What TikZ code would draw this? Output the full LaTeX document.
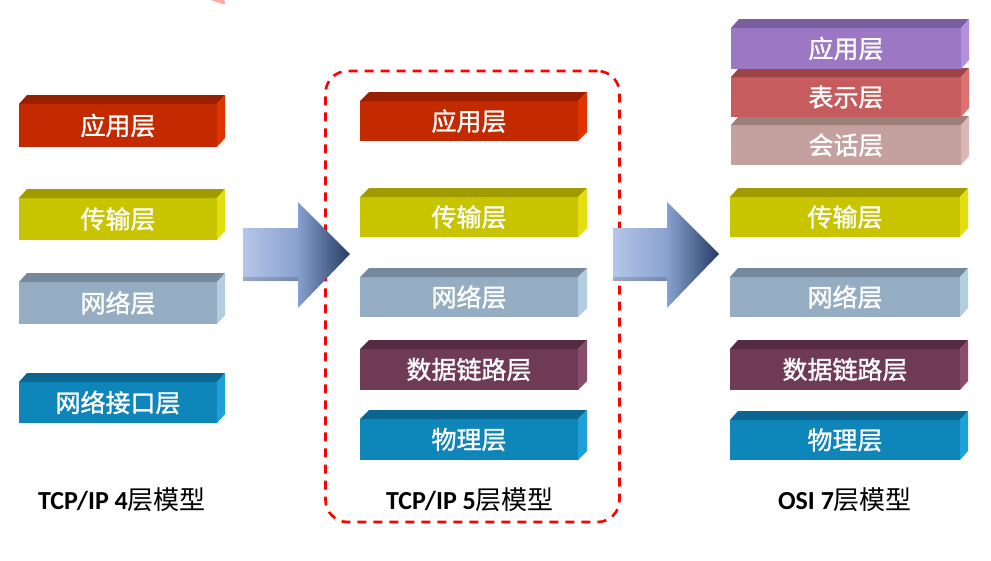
\documentclass[tikz,border=0pt]{standalone}
\usepackage{fontspec}
\setmainfont{Carlito}
\newfontfamily\cjk{Noto Sans CJK SC}
\newfontfamily\cjkfb[FakeBold=1.2]{Noto Sans CJK SC}
\usetikzlibrary{calc}
\definecolor{redF}{HTML}{C42A00}\definecolor{redT}{HTML}{982000}\definecolor{redS}{HTML}{E03300}
\definecolor{yelF}{HTML}{C8C400}\definecolor{yelT}{HTML}{A09C00}\definecolor{yelS}{HTML}{E2DE10}
\definecolor{gryF}{HTML}{94ADC2}\definecolor{gryT}{HTML}{76899A}\definecolor{gryS}{HTML}{B2CCE0}
\definecolor{bluF}{HTML}{0E86BA}\definecolor{bluT}{HTML}{0A6690}\definecolor{bluS}{HTML}{20A0D8}
\definecolor{marF}{HTML}{6E3A56}\definecolor{marT}{HTML}{562A42}\definecolor{marS}{HTML}{884C6C}
\definecolor{purF}{HTML}{9B77C4}\definecolor{purT}{HTML}{7A5E9E}\definecolor{purS}{HTML}{B290DE}
\definecolor{preF}{HTML}{C65C5E}\definecolor{preT}{HTML}{9E4446}\definecolor{preS}{HTML}{DC7272}
\definecolor{sesF}{HTML}{C4A09E}\definecolor{sesT}{HTML}{9C7E7C}\definecolor{sesS}{HTML}{DAB6B4}
\definecolor{arrL}{HTML}{B4C6E8}\definecolor{arrM}{HTML}{8AA2D0}\definecolor{arrD}{HTML}{263C66}
\tikzset{
  layer/.style={rectangle,inner sep=0pt,outer sep=0pt,text=white,font=\cjkfb\fontsize{25}{28}\selectfont},
  caption/.style={inner sep=0pt,font=\bfseries\fontsize{26}{30}\selectfont},
  bigarrow/.style={left color=arrL,right color=arrD,middle color=arrM,shading angle=90},
}
\newcommand\lay[8]{% name, x1, y1, x2, y2, colour prefix, text, depth
  \node[layer,fill=#6F,minimum width={(#4-#2)*1pt},minimum height={(#5-#3)*1pt}] (#1) at ({(#2+#4)/2},{(#3+#5)/2}) {#7};
  \fill[#6T] (#1.north west) -- ++(#8,-9) -- ($(#1.north east)+(#8,-9)$) -- (#1.north east) -- cycle;
  \fill[#6S] (#1.north east) -- ++(#8,-9) -- ($(#1.south east)+(#8,-9)$) -- (#1.south east) -- cycle;
}
\begin{document}
\begin{tikzpicture}[x=1pt,y=-1pt]
\useasboundingbox (0,0) rectangle (991,560);
% pink mark at top
\fill[red!35] (211,0) -- (224,0) .. controls (226,2) and (226,4) .. (224,4.5) .. controls (220,3) and (215,1.5) .. cycle;
% dashed frame
\node[draw=red,line width=2.6pt,dash pattern=on 9pt off 7pt,rounded corners=22pt,minimum width=294pt,minimum height=451pt,inner sep=0pt] (frame) at (472.5,296.5) {};
% left column
\lay{a1}{19}{104}{217}{147}{red}{应用层}{8}
\lay{a2}{19}{198}{217}{240}{yel}{传输层}{8}
\lay{a3}{19}{282}{217}{324}{gry}{网络层}{8}
\lay{a4}{19}{382}{217}{423}{blu}{网络接口层}{8}
% middle column
\lay{b1}{360}{101}{578}{141}{red}{应用层}{9}
\lay{b2}{360}{197}{578}{237}{yel}{传输层}{9}
\lay{b3}{360}{277}{578}{317}{gry}{网络层}{9}
\lay{b4}{360}{349}{578}{390}{mar}{数据链路层}{9}
\lay{b5}{360}{419}{578}{460}{blu}{物理层}{9}
% right column
\lay{c7}{731}{125}{961}{165}{ses}{会话层}{8}
\lay{c6}{731}{77}{961}{117}{pre}{表示层}{8}
\lay{c5}{731}{28}{961}{69}{pur}{应用层}{8}
\lay{c4}{730}{197}{960}{237}{yel}{传输层}{8}
\lay{c3}{730}{277}{960}{317}{gry}{网络层}{8}
\lay{c2}{730}{349}{960}{390}{mar}{数据链路层}{8}
\lay{c1}{730}{420}{960}{460}{blu}{物理层}{8}
% arrows
\coordinate (p1) at (243,228);
\shade[bigarrow] (p1) -- ++(55,0) -- ++(0,-26) -- ++(52,52) -- ++(-52,54) -- ++(0,-27) -- ++(-55,0) -- cycle;
\fill[black,opacity=0.15] (243,277) rectangle (298,281);
\coordinate (p2) at (613,228);
\shade[bigarrow] (p2) -- ++(54,0) -- ++(0,-26) -- ++(52,52) -- ++(-52,54) -- ++(0,-27) -- ++(-54,0) -- cycle;
\fill[black,opacity=0.15] (613,277) rectangle (667,281);
% captions
\node[caption] (t1) at (122,500) {TCP/IP 4{\cjk\mdseries 层模型}};
\node[caption] (t2) at (470,500) {TCP/IP 5{\cjk\mdseries 层模型}};
\node[caption] (t3) at (845,500) {OSI 7{\cjk\mdseries 层模型}};
\end{tikzpicture}
\end{document}
